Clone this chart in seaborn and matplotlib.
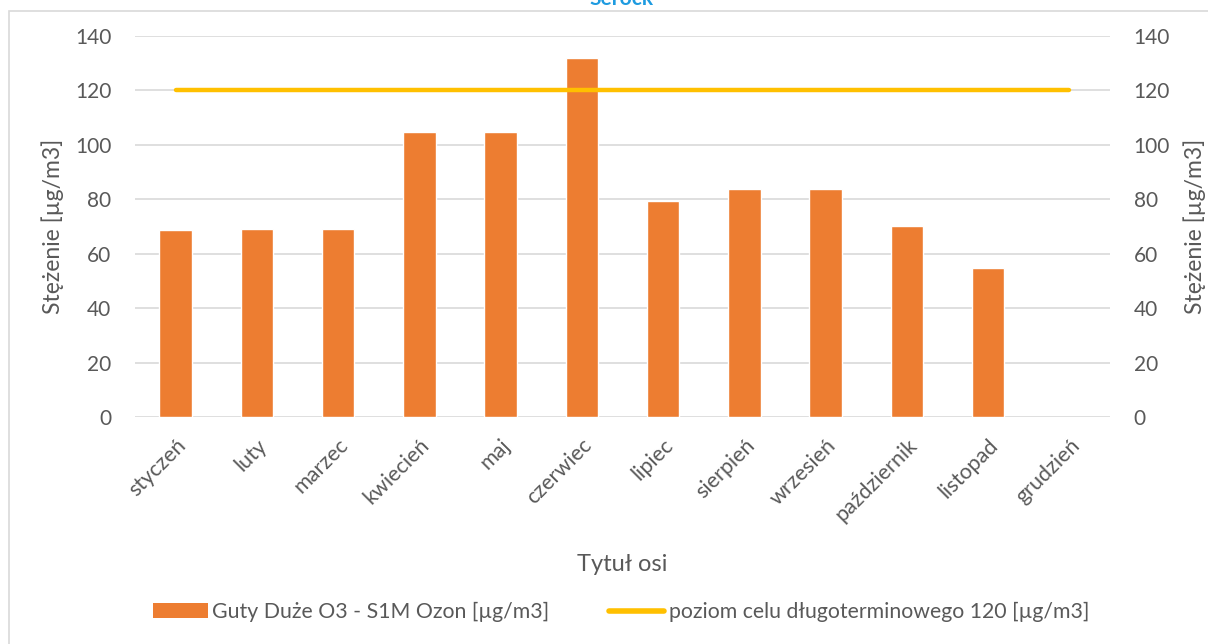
import numpy as np
import pandas as pd
import matplotlib
matplotlib.use('Agg')
import matplotlib.pyplot as plt
from matplotlib.patches import Patch, Rectangle
from matplotlib.lines import Line2D
import seaborn as sns

# Data
months = ['styczeń', 'luty', 'marzec', 'kwiecień', 'maj', 'czerwiec',
          'lipiec', 'sierpień', 'wrzesień', 'październik', 'listopad', 'grudzień']
ozone = [68.7, 69.2, 69.2, 104.8, 104.8, 131.9, 79.4, 83.8, 83.8, 70.1, 54.7, np.nan]
target = [120] * 12
y_ticks = [0, 20, 40, 60, 80, 100, 120, 140]

bar_label = 'Guty Duże O3 - S1M Ozon [µg/m3]'
line_label = 'poziom celu długoterminowego 120 [µg/m3]'

df = pd.DataFrame({'month': months, 'ozone': ozone, 'target': target})

sns.set_style('white')
plt.rcParams['font.family'] = ['Lato', 'DejaVu Sans']
text_col = '#595959'
orange = '#ED7D31'
yellow = '#FFC000'

fig = plt.figure(figsize=(12.08, 6.44), dpi=100)
ax = fig.add_axes([135 / 1208, 1 - 417 / 644, 975 / 1208, 381 / 644])

# Bars
sns.barplot(data=df, x='month', y='ozone', color=orange, width=0.4,
            saturation=1, ax=ax, zorder=2)

# Target line
sns.lineplot(x=np.arange(len(months)), y=df['target'], color=yellow,
             linewidth=3.2, ax=ax, zorder=3, solid_capstyle='round')

ax.set_xlim(-0.5, len(months) - 0.5)
ax.set_ylim(0, 140)
ax.set_yticks(y_ticks)
ax.yaxis.grid(True, color='#D9D9D9', linewidth=1.2, zorder=0)
ax.set_axisbelow(True)
for s in ax.spines.values():
    s.set_visible(False)
ax.tick_params(axis='both', length=0, labelsize=15, colors=text_col)
ax.tick_params(axis='y', pad=17)
ax.set_xticks(range(len(months)))
ax.set_xticklabels(months, rotation=45, ha='right', rotation_mode='anchor',
                   fontsize=15.5)
ax.tick_params(axis='x', pad=13)
ax.set_ylabel('Stężenie [µg/m3]', fontsize=16.5, color=text_col, labelpad=8)
ax.set_xlabel('Tytuł osi', fontsize=17, color=text_col)
ax.xaxis.set_label_coords(0.5, -0.36)

# Secondary axis
ax2 = ax.twinx()
ax2.set_ylim(0, 140)
ax2.set_yticks(y_ticks)
for s in ax2.spines.values():
    s.set_visible(False)
ax2.tick_params(axis='y', length=0, labelsize=15, colors=text_col, pad=17)
ax2.set_ylabel('Stężenie [µg/m3]', fontsize=16.5, color=text_col, labelpad=10)

# Legend
handles = [Patch(facecolor=orange, edgecolor='none', label=bar_label),
           Line2D([0], [0], color=yellow, linewidth=4, label=line_label)]
fig.legend(handles=handles, loc='center', bbox_to_anchor=(621 / 1208, 1 - 612 / 644),
           ncol=2, frameon=False, fontsize=15.3, labelcolor=text_col,
           handlelength=2.6, handletextpad=0.2, columnspacing=2.8)

# Cut-off title and chart frame
fig.text(622 / 1208, 1 - 5 / 644, 'Serock', ha='center', va='baseline',
         fontsize=15, fontweight='bold', color='#1E9BE0')
fig.patches.append(Rectangle((9 / 1208, -0.1), 1.2, 1 - 11 / 644 + 0.1,
                             transform=fig.transFigure, fill=False,
                             edgecolor='#D9D9D9', linewidth=1.2))

fig.savefig('out.png', dpi=100)
